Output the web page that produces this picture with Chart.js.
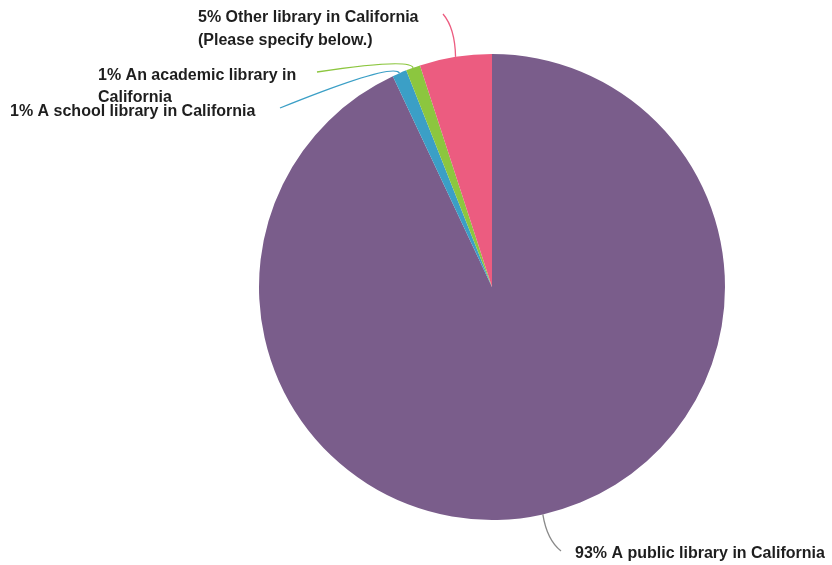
<!DOCTYPE html>
<html>
<head>
<meta charset="utf-8">
<script src="https://cdn.jsdelivr.net/npm/chart.js@4.4.1/dist/chart.umd.min.js"></script>
<style>
  body { margin: 0; background: #fff; }
  canvas { display: block; }
</style>
</head>
<body>
<canvas id="pie" width="832" height="565"></canvas>
<script>
const categories = [
    "A public library in California",
    "A school library in California",
    "An academic library in California",
    "Other library in California (Please specify below.)"
];
const shares = [93, 1, 1, 5];
const sliceColors = ["#7a5d8b", "#3b9fc6", "#8cc63f", "#ec5c80"];
const lineColors = ["#8a8a8a", "#3b9fc6", "#8cc63f", "#ec5c80"];

// text lines for each callout, drawn with the percentage in front
const calloutText = [
    ["93% A public library in California"],
    ["1% A school library in California"],
    ["1% An academic library in", "California"],
    ["5% Other library in California", "(Please specify below.)"]
];

// where each callout's text sits and how its leader line bends
const calloutLayout = [
    { x: 575, y: 554, lineHeight: 22, end: [561, 551], bend: [547, 540] },
    { x: 10, y: 112, lineHeight: 22, end: [280, 108], bend: [394, 62] },
    { x: 98, y: 76, lineHeight: 22, end: [317, 72], bend: [410, 58] },
    { x: 198, y: 18, lineHeight: 23, end: [443, 14], bend: [455, 28] }
];

const callouts = {
    id: "callouts",
    afterDatasetsDraw(chart) {
        const ctx = chart.ctx;
        const arcs = chart.getDatasetMeta(0).data;
        ctx.save();
        arcs.forEach((arc, i) => {
            const p = arc.getProps(["x", "y", "startAngle", "endAngle", "outerRadius"], true);
            const mid = (p.startAngle + p.endAngle) / 2;
            const sx = p.x + Math.cos(mid) * p.outerRadius;
            const sy = p.y + Math.sin(mid) * p.outerRadius;
            const lay = calloutLayout[i];

            ctx.strokeStyle = lineColors[i];
            ctx.lineWidth = 1.3;
            ctx.beginPath();
            ctx.moveTo(sx, sy);
            ctx.quadraticCurveTo(lay.bend[0], lay.bend[1], lay.end[0], lay.end[1]);
            ctx.stroke();

            ctx.fillStyle = "#1e1e1e";
            ctx.font = "bold 16px 'Liberation Sans', Arial, sans-serif";
            ctx.textBaseline = "middle";
            ctx.textAlign = "left";
            calloutText[i].forEach((t, k) => {
                ctx.fillText(t, lay.x, lay.y + k * lay.lineHeight);
            });
        });
        ctx.restore();
    }
};

new Chart(document.getElementById("pie").getContext("2d"), {
    type: "pie",
    data: {
        labels: categories,
        datasets: [{
            data: shares,
            backgroundColor: sliceColors,
            borderWidth: 0
        }]
    },
    options: {
        responsive: false,
        animation: false,
        layout: {
            padding: { left: 259, right: 107, top: 54, bottom: 45 }
        },
        plugins: {
            legend: { display: false },
            tooltip: { enabled: false }
        }
    },
    plugins: [callouts]
});
</script>
</body>
</html>
